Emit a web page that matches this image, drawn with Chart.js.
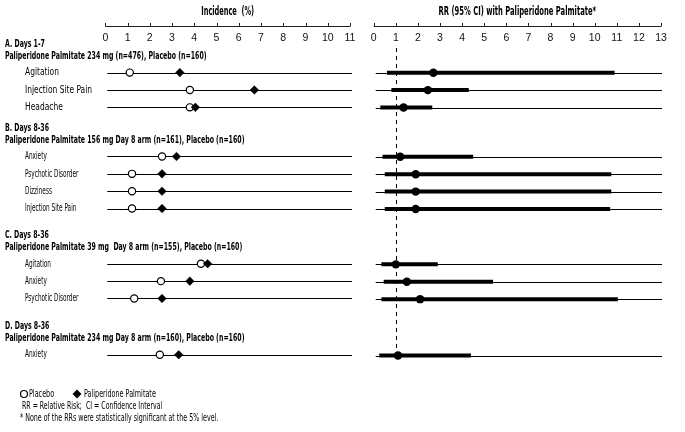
<!DOCTYPE html>
<html>
<head>
<meta charset="utf-8">
<script src="https://cdn.jsdelivr.net/npm/chart.js@4.4.0/dist/chart.umd.min.js"></script>
<style>
html, body { margin: 0; padding: 0; background: #fff; }
#wrap { position: relative; width: 685px; height: 432px; }
#left { position: absolute; left: 0; top: 0; }
#right { position: absolute; left: 365px; top: 0; }
</style>
</head>
<body>
<div id="wrap">
  <canvas id="left" width="365" height="432"></canvas>
  <canvas id="right" width="320" height="432"></canvas>
</div>
<script>
// ---- data ----
const groupTitles = ['A. Days 1-7', 'B. Days 8-36', 'C. Days 8-36', 'D. Days 8-36'];
const groupArms = [
  'Paliperidone Palmitate 234 mg (n=476), Placebo (n=160)',
  'Paliperidone Palmitate 156 mg Day 8 arm (n=161), Placebo (n=160)',
  'Paliperidone Palmitate 39 mg  Day 8 arm (n=155), Placebo (n=160)',
  'Paliperidone Palmitate 234 mg Day 8 arm (n=160), Placebo (n=160)'
];
const events = [
  ['Agitation', 'Injection Site Pain', 'Headache'],
  ['Anxiety', 'Psychotic Disorder', 'Dizziness', 'Injection Site Pain'],
  ['Agitation', 'Anxiety', 'Psychotic Disorder'],
  ['Anxiety']
];
const placebo      = [[1.1, 3.8, 3.8], [2.55, 1.2, 1.2, 1.2], [4.3, 2.5, 1.3], [2.45]];
const paliperidone = [[3.35, 6.7, 4.05], [3.2, 2.55, 2.55, 2.55], [4.6, 3.8, 2.55], [3.3]];
const rr     = [[2.7, 2.45, 1.35], [1.2, 1.9, 1.9, 1.9], [1.0, 1.5, 2.1], [1.1]];
const ciLow  = [[0.6, 0.8, 0.3], [0.4, 0.5, 0.5, 0.5], [0.35, 0.45, 0.35], [0.25]];
const ciHigh = [[10.9, 4.3, 2.65], [4.5, 10.75, 10.75, 10.7], [2.9, 5.4, 11.05], [4.4]];
const incidenceTicks = [0, 1, 2, 3, 4, 5, 6, 7, 8, 9, 10, 11];
const rrTicks = [0, 1, 2, 3, 4, 5, 6, 7, 8, 9, 10, 11, 12, 13];
const legendText = ['Placebo', 'Paliperidone Palmitate'];
const notes = ['RR = Relative Risk;  CI = Confidence Interval', '* None of the RRs were statistically significant at the 5% level.'];

const NARROW = "'Liberation Sans Narrow', 'DejaVu Sans Condensed', sans-serif";

// rows on a slot scale, extra room before each group for the headers
const gapBefore = [0, 1.83, 2.18, 2.24];
const rowSlot = [];
let s = 0;
events.forEach((g, gi) => { s += gapBefore[gi]; rowSlot.push(g.map(() => s++)); });

const pts = (arr) => arr.flatMap((g, gi) => g.map((v, i) => ({ x: v, y: rowSlot[gi][i] })));

function text(ctx, str, x, y, font, sx, align) {
  ctx.save();
  ctx.font = font;
  ctx.fillStyle = '#000';
  ctx.textBaseline = 'middle';
  ctx.textAlign = align || 'left';
  ctx.translate(x, y);
  ctx.scale(sx, 1);
  ctx.fillText(str, 0, 0);
  ctx.restore();
}

function topAxis(ctx, xs, ticks) {
  const yy = 26.5;
  ctx.strokeStyle = '#222';
  ctx.lineWidth = 1;
  ctx.beginPath();
  ctx.moveTo(xs.getPixelForValue(ticks[0]), yy);
  ctx.lineTo(xs.getPixelForValue(ticks[ticks.length - 1]), yy);
  ticks.forEach(t => {
    const px = Math.round(xs.getPixelForValue(t)) + 0.5;
    ctx.moveTo(px, yy);
    ctx.lineTo(px, yy - 3.5);
  });
  ctx.stroke();
}

function yScale() {
  return { type: 'linear', display: false, reverse: true, min: -1.591, max: 20.4 };
}

function xScale(max) {
  return {
    type: 'linear', position: 'top', min: 0, max: max,
    afterFit(sc) { sc.height = 45; },
    afterBuildTicks(sc) { sc.ticks = (max === 11 ? incidenceTicks : rrTicks).map(v => ({ value: v })); },
    grid: { display: false, drawTicks: false },
    border: { display: false },
    ticks: { padding: 1, color: '#111', font: { family: "'Liberation Sans', sans-serif", size: 10.5 } }
  };
}

const leftDecor = {
  id: 'leftDecor',
  beforeDatasetsDraw(chart) {
    const { ctx, chartArea, scales: { x, y } } = chart;
    ctx.save();
    topAxis(ctx, x, incidenceTicks);
    text(ctx, 'Incidence  (%)', (chartArea.left + chartArea.right) / 2, 12, 'bold 12px ' + NARROW, 0.61, 'center');
    ctx.strokeStyle = '#000';
    ctx.lineWidth = 1.1;
    ctx.beginPath();
    rowSlot.flat().forEach(v => {
      const py = Math.round(y.getPixelForValue(v)) + 0.5;
      ctx.moveTo(x.getPixelForValue(0) + 2, py);
      ctx.lineTo(x.getPixelForValue(11) + 2, py);
    });
    ctx.stroke();
    events.forEach((g, gi) => {
      const y0 = y.getPixelForValue(rowSlot[gi][0]);
      text(ctx, groupTitles[gi], 5, y0 - 28.5, 'bold 10.5px ' + NARROW, 0.66);
      text(ctx, groupArms[gi], 5, y0 - 16.5, 'bold 10.5px ' + NARROW, 0.66);
      g.forEach((name, i) => {
        const py = y.getPixelForValue(rowSlot[gi][i]);
        if (gi === 0) text(ctx, name, 25, py, '11px ' + NARROW, 0.76);
        else text(ctx, name, 25, py, '10.5px ' + NARROW, 0.61);
      });
    });
    // legend + notes
    ctx.fillStyle = '#fff'; ctx.strokeStyle = '#000'; ctx.lineWidth = 1.2;
    ctx.beginPath(); ctx.arc(24, 394, 3.5, 0, Math.PI * 2); ctx.fill(); ctx.stroke();
    text(ctx, legendText[0], 29, 394, '10.5px ' + NARROW, 0.68);
    ctx.fillStyle = '#000';
    ctx.beginPath(); ctx.moveTo(72.5, 394); ctx.lineTo(77, 389.5); ctx.lineTo(81.5, 394); ctx.lineTo(77, 398.5); ctx.closePath(); ctx.fill();
    text(ctx, legendText[1], 84, 394, '10.5px ' + NARROW, 0.68);
    text(ctx, notes[0], 22, 406, '10.5px ' + NARROW, 0.66);
    text(ctx, notes[1], 20, 418, '10.5px ' + NARROW, 0.67);
    ctx.restore();
  }
};

const rightDecor = {
  id: 'rightDecor',
  beforeDatasetsDraw(chart) {
    const { ctx, chartArea, scales: { x, y } } = chart;
    ctx.save();
    topAxis(ctx, x, rrTicks);
    text(ctx, 'RR (95% CI) with Paliperidone Palmitate*', (chartArea.left + chartArea.right) / 2, 12, 'bold 12px ' + NARROW, 0.63, 'center');
    ctx.strokeStyle = '#000';
    ctx.lineWidth = 1.1;
    ctx.beginPath();
    rowSlot.flat().forEach(v => {
      const py = Math.round(y.getPixelForValue(v)) + 0.5;
      ctx.moveTo(x.getPixelForValue(0) + 2, py);
      ctx.lineTo(x.getPixelForValue(13) + 1, py);
    });
    ctx.stroke();
    // reference line at RR = 1
    const px = Math.round(x.getPixelForValue(1)) + 0.5;
    ctx.setLineDash([4, 4]);
    ctx.lineWidth = 1;
    ctx.beginPath();
    ctx.moveTo(px, 48);
    ctx.lineTo(px, y.getPixelForValue(rowSlot[3][0]) + 4);
    ctx.stroke();
    ctx.restore();
  }
};

Chart.defaults.font.family = NARROW;

new Chart(document.getElementById('left'), {
  type: 'scatter',
  data: {
    datasets: [
      {
        label: legendText[1], data: pts(paliperidone),
        pointStyle: 'rectRot', pointRadius: 4.3, backgroundColor: '#000', borderColor: '#000', borderWidth: 0.5
      },
      {
        label: legendText[0], data: pts(placebo),
        pointStyle: 'circle', pointRadius: 3.6, backgroundColor: '#fff', borderColor: '#000', borderWidth: 1.2
      }
    ]
  },
  options: {
    responsive: false, animation: false, devicePixelRatio: 1, events: [],
    layout: { padding: { left: 105.3, right: 15, top: 0, bottom: 0 } },
    plugins: { legend: { display: false }, tooltip: { enabled: false } },
    scales: { x: xScale(11), y: yScale() }
  },
  plugins: [leftDecor]
});

const ciSets = rr.flatMap((g, gi) => g.map((v, i) => ({
  type: 'scatter', showLine: true,
  data: [{ x: ciLow[gi][i], y: rowSlot[gi][i] }, { x: ciHigh[gi][i], y: rowSlot[gi][i] }],
  borderColor: '#000', borderWidth: 4, pointRadius: 0, borderCapStyle: 'butt'
})));

new Chart(document.getElementById('right'), {
  type: 'scatter',
  data: {
    datasets: [
      {
        label: 'RR', data: pts(rr),
        pointStyle: 'circle', pointRadius: 4.2, backgroundColor: '#000', borderColor: '#000', borderWidth: 0
      },
      ...ciSets
    ]
  },
  options: {
    responsive: false, animation: false, devicePixelRatio: 1, events: [],
    layout: { padding: { left: 8.7, right: 24, top: 0, bottom: 0 } },
    plugins: { legend: { display: false }, tooltip: { enabled: false } },
    scales: { x: xScale(13), y: yScale() }
  },
  plugins: [rightDecor]
});
</script>
</body>
</html>
